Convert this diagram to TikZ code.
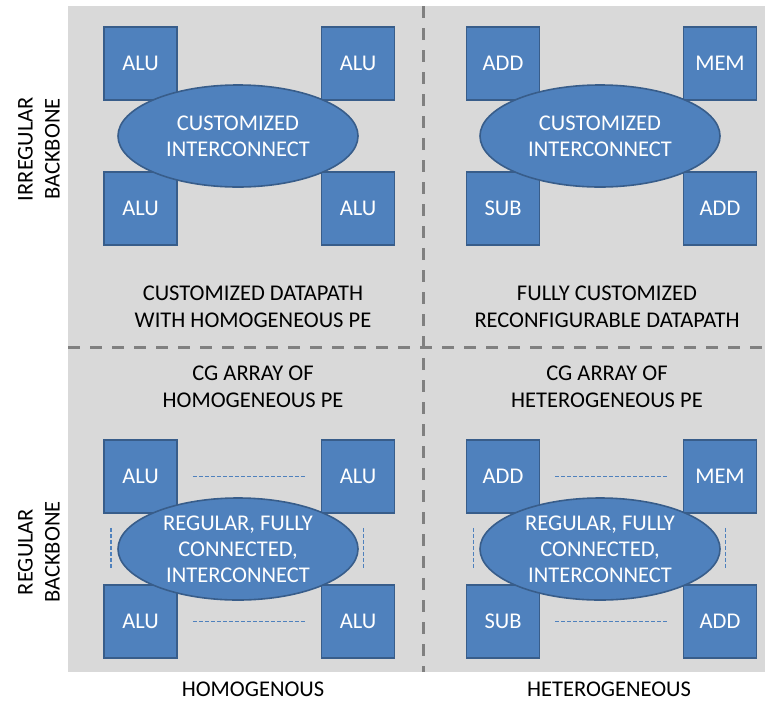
\documentclass[tikz,border=0pt]{standalone}
\usepackage{fontspec}
\setmainfont{Carlito}
\usepackage{tikz}
\usetikzlibrary{shapes.geometric}
\definecolor{peblue}{HTML}{4F81BD}
\definecolor{peedge}{HTML}{385D8A}
\definecolor{bggray}{HTML}{D9D9D9}
\definecolor{divgray}{HTML}{808080}
\tikzstyle{pe} = [rectangle, minimum size=73pt, inner sep=0pt, fill=peblue, draw=peedge, line width=1.6pt, text=white, font=\fontsize{22.5}{26}\selectfont]
\tikzstyle{interconnect} = [ellipse, minimum width=240pt, minimum height=102pt, inner sep=0pt, fill=peblue, draw=peedge, line width=1.6pt, text=white, align=center, font=\fontsize{22.5}{26}\selectfont]
\tikzstyle{caption} = [align=center, text=black, font=\fontsize{22.5}{27}\selectfont]
\tikzstyle{link} = [peblue, line width=1.5pt, dash pattern=on 4pt off 2pt, shorten <=15pt, shorten >=15pt]
\tikzstyle{divider} = [divgray, line width=3pt, dash pattern=on 12pt off 10pt]

\begin{document}
\begin{tikzpicture}[x=1pt, y=-1pt]
      \useasboundingbox (0,0) rectangle (765,702);
      %背景和分隔线
      \fill[bggray] (68,6) rectangle (765,672);
      \draw[divider] (423,6) -- (423,672);
      \draw[divider] (68,347) -- (765,347);
      %左上: 定制数据通路
      \node[pe](tl1) at (140.5,63.5){ALU};
      \node[pe](tl2) at (358,63.5){ALU};
      \node[pe](tl3) at (140.5,208.5){ALU};
      \node[pe](tl4) at (358,208.5){ALU};
      \node[interconnect](tlc) at (238,136){CUSTOMIZED\\INTERCONNECT};
      %右上
      \node[pe](tr1) at (503,63.5){ADD};
      \node[pe](tr2) at (720,63.5){MEM};
      \node[pe](tr3) at (503,208.5){SUB};
      \node[pe](tr4) at (720,208.5){ADD};
      \node[interconnect](trc) at (600,136){CUSTOMIZED\\INTERCONNECT};
      %左下: CG array
      \node[pe](bl1) at (140.5,476.5){ALU};
      \node[pe](bl2) at (358,476.5){ALU};
      \node[pe](bl3) at (140.5,621.5){ALU};
      \node[pe](bl4) at (358,621.5){ALU};
      \draw[link] (bl1) -- (bl2);
      \draw[link] (bl3) -- (bl4);
      \draw[link, shorten <=14pt, shorten >=15pt] ([xshift=8pt]bl1.south west) -- ([xshift=8pt]bl3.north west);
      \draw[link, shorten <=14pt, shorten >=15pt] ([xshift=43pt]bl2.south west) -- ([xshift=43pt]bl4.north west);
      \node[interconnect](blc) at (238,549){REGULAR, FULLY\\CONNECTED,\\INTERCONNECT};
      %右下
      \node[pe](br1) at (503,476.5){ADD};
      \node[pe](br2) at (720,476.5){MEM};
      \node[pe](br3) at (503,621.5){SUB};
      \node[pe](br4) at (720,621.5){ADD};
      \draw[link] (br1) -- (br2);
      \draw[link] (br3) -- (br4);
      \draw[link, shorten <=14pt, shorten >=15pt] ([xshift=8pt]br1.south west) -- ([xshift=8pt]br3.north west);
      \draw[link, shorten <=14pt, shorten >=15pt] ([xshift=43pt]br2.south west) -- ([xshift=43pt]br4.north west);
      \node[interconnect](brc) at (600,549){REGULAR, FULLY\\CONNECTED,\\INTERCONNECT};
      %各象限标题
      \node[caption](tlname) at (253,307){CUSTOMIZED DATAPATH\\WITH HOMOGENEOUS PE};
      \node[caption](trname) at (607,307){FULLY CUSTOMIZED\\RECONFIGURABLE DATAPATH};
      \node[caption](blname) at (253,387){CG ARRAY OF\\HOMOGENEOUS PE};
      \node[caption](brname) at (607,387){CG ARRAY OF\\HETEROGENEOUS PE};
      %坐标轴标签
      \node[caption](xhomo) at (253,689){HOMOGENOUS};
      \node[caption](xhetero) at (609,689){HETEROGENEOUS};
      \node[caption, rotate=90](yirr) at (39,149){IRREGULAR\\BACKBONE};
      \node[caption, rotate=90](yreg) at (39,552){REGULAR\\BACKBONE};
    \end{tikzpicture}
\end{document}
